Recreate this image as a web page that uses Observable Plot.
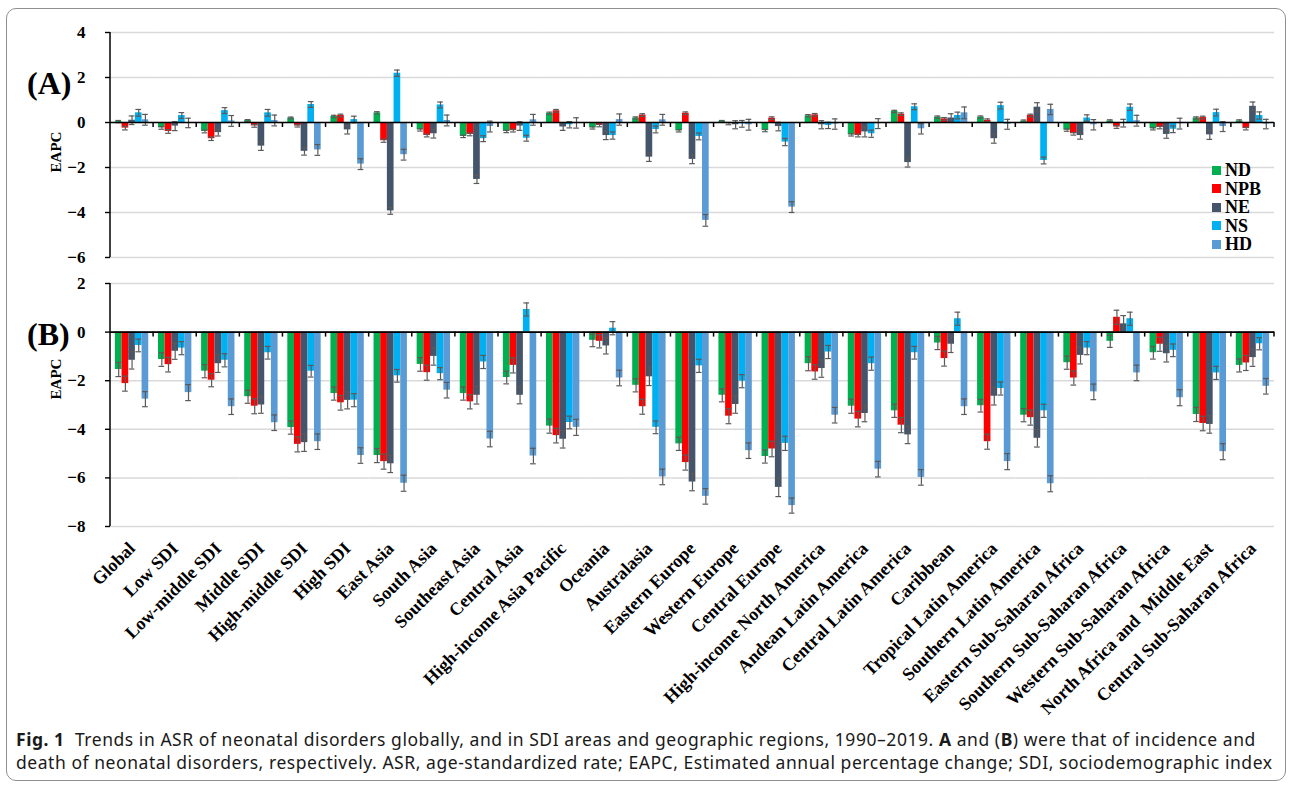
<!DOCTYPE html>
<html>
<head>
<meta charset="utf-8">
<script src="https://cdn.jsdelivr.net/npm/d3@7"></script>
<script src="https://cdn.jsdelivr.net/npm/@observablehq/plot@0.6"></script>
<style>
  html, body { margin: 0; padding: 0; background: #fff; }
  body { width: 1293px; height: 787px; position: relative; overflow: hidden; }
  #frame { position: absolute; left: 6px; top: 8px; width: 1278px; height: 771px; border: 1px solid #8f8f8f; border-radius: 10px; }
  #a { position: absolute; left: 0; top: 20px; }
  #b { position: absolute; left: 0; top: 270px; }
  svg { overflow: visible; }
  .plab { position: absolute; left: 27px; font: bold 32px/32px "Liberation Serif", serif; color: #000; }
  .ylab { position: absolute; width: 80px; height: 16px; text-align: center; font: bold 15px/16px "Liberation Serif", serif; transform: rotate(-90deg); color: #000; }
  #legend { position: absolute; left: 1212px; top: 161px; font: bold 18px/18.5px "Liberation Serif", serif; color: #000; }
  #legend .row { display: flex; align-items: center; height: 18.5px; }
  #legend .sw { width: 9px; height: 9px; margin-right: 4px; }
  #caption { position: absolute; left: 16px; top: 728px; font: 17.5px/23px "Noto Sans", sans-serif; letter-spacing: 0.55px; color: #1a1a1a; white-space: nowrap; }
</style>
</head>
<body>
<div id="frame"></div>
<div id="a"></div>
<div id="b"></div>
<div class="plab" style="top:67px">(A)</div>
<div class="plab" style="top:318px">(B)</div>
<div class="ylab" style="left:16px; top:144px">EAPC</div>
<div class="ylab" style="left:16px; top:371px">EAPC</div>
<div id="legend"></div>
<div id="caption"><b>Fig. 1</b>&nbsp; Trends in ASR of neonatal disorders globally, and in SDI areas and geographic regions, 1990–2019. <b>A</b> and (<b>B</b>) were that of incidence and<br>death of neonatal disorders, respectively. ASR, age-standardized rate; EAPC, Estimated annual percentage change; SDI, sociodemographic index</div>
<script>
const categories = ["Global","Low SDI","Low-middle SDI","Middle SDI","High-middle SDI","High SDI","East Asia","South Asia","Southeast Asia","Central Asia","High-income Asia Pacific","Oceania","Australasia","Eastern Europe","Western Europe","Central Europe","High-income North America","Andean Latin America","Central Latin America","Caribbean","Tropical Latin America","Southern Latin America","Eastern Sub-Saharan Africa","Southern Sub-Saharan Africa","Western Sub-Saharan Africa","North Africa and  Middle East","Central Sub-Saharan Africa"];
const series = ["ND","NPB","NE","NS","HD"];
const colors = ["#00B050","#FF0000","#44546A","#00B0F0","#5B9BD5"];

// (A) incidence EAPC
const ND_A  = [0.04,-0.24,-0.4,0.09,0.2,0.27,0.43,-0.33,-0.62,-0.4,0.41,-0.24,0.2,-0.37,0.05,-0.36,0.3,-0.55,0.49,0.24,0.24,0.06,-0.34,0.07,-0.28,0.2,0.07];
const NPB_A = [-0.25,-0.4,-0.72,-0.15,-0.15,0.31,-0.81,-0.58,-0.53,-0.36,0.52,-0.13,0.33,0.41,-0.05,0.19,0.34,-0.58,0.37,0.16,0.1,0.31,-0.5,-0.2,-0.22,0.22,-0.27];
const NE_A  = [0.1,-0.16,-0.45,-1.05,-1.28,-0.33,-3.93,-0.5,-2.53,-0.16,-0.2,-0.58,-1.54,-1.64,-0.1,-0.18,-0.1,-0.42,-1.78,0.2,-0.72,0.68,-0.58,-0.03,-0.53,-0.55,0.72];
const NS_A  = [0.43,0.31,0.53,0.43,0.8,0.13,2.19,0.78,-0.72,-0.7,-0.1,-0.58,-0.31,-0.62,-0.06,-0.87,-0.13,-0.5,0.7,0.31,0.75,-1.69,0.2,0.68,-0.3,0.44,0.31];
const HD_A  = [0.12,-0.02,0.07,0.09,-1.22,-1.85,-1.43,0.09,-0.18,0.12,-0.02,0.13,0.12,-4.35,-0.1,-3.76,-0.07,-0.05,-0.28,0.43,-0.08,0.58,-0.1,0.08,-0.05,-0.18,-0.07];
const ND_A_err  = [0.05,0.06,0.06,0.04,0.04,0.05,0.05,0.05,0.05,0.05,0.05,0.05,0.05,0.05,0.04,0.05,0.05,0.05,0.05,0.05,0.05,0.05,0.05,0.05,0.05,0.05,0.05];
const NPB_A_err = [0.08,0.08,0.08,0.06,0.05,0.06,0.07,0.06,0.06,0.06,0.06,0.06,0.06,0.06,0.05,0.06,0.06,0.06,0.06,0.06,0.06,0.06,0.06,0.06,0.06,0.06,0.06];
const NE_A_err  = [0.19,0.2,0.15,0.19,0.17,0.18,0.15,0.19,0.18,0.19,0.15,0.18,0.19,0.19,0.18,0.19,0.18,0.22,0.2,0.19,0.2,0.2,0.16,0.17,0.17,0.2,0.19];
const NS_A_err  = [0.15,0.13,0.13,0.15,0.13,0.15,0.14,0.13,0.13,0.13,0.14,0.16,0.15,0.15,0.15,0.16,0.14,0.16,0.13,0.15,0.15,0.15,0.14,0.14,0.15,0.15,0.16];
const HD_A_err  = [0.24,0.21,0.24,0.24,0.24,0.24,0.24,0.24,0.24,0.24,0.23,0.25,0.24,0.26,0.24,0.24,0.23,0.22,0.23,0.26,0.22,0.23,0.23,0.24,0.24,0.22,0.21];

// (B) death EAPC
const ND_B  = [-1.54,-1.13,-1.61,-2.66,-3.93,-2.53,-5.08,-1.33,-2.53,-1.87,-3.87,-0.34,-2.19,-4.6,-2.6,-5.12,-1.3,-3.05,-3.24,-0.45,-3.03,-3.42,-1.26,-0.38,-0.85,-3.39,-1.37];
const NPB_B = [-2.12,-1.34,-1.98,-3.05,-4.62,-2.91,-5.33,-1.67,-2.87,-1.37,-4.26,-0.38,-3.07,-5.37,-3.46,-4.81,-1.64,-3.58,-3.83,-1.09,-4.51,-3.52,-1.89,0.61,-0.5,-3.76,-1.27];
const NE_B  = [-1.16,-0.79,-1.3,-3.0,-4.55,-2.81,-5.42,-1.0,-2.6,-2.6,-4.41,-0.57,-1.84,-6.17,-2.98,-6.39,-1.5,-3.35,-4.23,-0.5,-2.64,-4.37,-0.96,0.34,-0.89,-3.8,-1.05];
const NS_B  = [-0.55,-0.66,-1.16,-0.85,-1.61,-2.8,-1.8,-1.71,-1.23,0.93,-3.72,0.16,-3.92,-1.39,-2.02,-4.58,-0.82,-1.3,-0.85,0.55,-2.32,-3.24,-0.66,0.55,-0.75,-1.68,-0.48];
const HD_B  = [-2.76,-2.49,-3.07,-3.73,-4.51,-5.08,-6.22,-2.39,-4.4,-5.1,-3.92,-1.89,-5.96,-6.76,-4.88,-7.14,-3.42,-5.64,-5.98,-3.07,-5.33,-6.24,-2.46,-1.68,-2.7,-4.92,-2.23];
const ND_B_err  = [0.29,0.28,0.27,0.27,0.27,0.27,0.29,0.28,0.27,0.26,0.29,0.26,0.27,0.27,0.27,0.27,0.29,0.29,0.27,0.27,0.26,0.27,0.27,0.25,0.26,0.29,0.27];
const NPB_B_err = [0.31,0.3,0.27,0.31,0.31,0.3,0.31,0.31,0.29,0.31,0.3,0.27,0.31,0.31,0.31,0.32,0.3,0.32,0.31,0.31,0.31,0.31,0.29,0.29,0.29,0.3,0.31];
const NE_B_err  = [0.36,0.33,0.36,0.34,0.36,0.35,0.36,0.36,0.36,0.35,0.36,0.33,0.36,0.36,0.36,0.38,0.36,0.34,0.36,0.34,0.36,0.36,0.35,0.34,0.34,0.36,0.36];
const NS_B_err  = [0.26,0.27,0.27,0.26,0.24,0.27,0.26,0.25,0.27,0.27,0.26,0.27,0.26,0.27,0.27,0.29,0.27,0.27,0.26,0.27,0.27,0.27,0.27,0.27,0.26,0.27,0.25];
const HD_B_err  = [0.31,0.33,0.32,0.32,0.32,0.32,0.33,0.32,0.32,0.32,0.33,0.32,0.32,0.32,0.32,0.31,0.32,0.32,0.32,0.32,0.33,0.33,0.32,0.32,0.33,0.33,0.32];

const ticksA = [-6,-4,-2,0,2,4];
const ticksB = [-8,-6,-4,-2,0,2];

function rows(vals, errs) {
  const out = [];
  categories.forEach((c, i) => series.forEach((s, j) => out.push({cat: c, series: s, value: vals[j][i], err: errs[j][i]})));
  return out;
}
const dataA = rows([ND_A, NPB_A, NE_A, NS_A, HD_A], [ND_A_err, NPB_A_err, NE_A_err, NS_A_err, HD_A_err]);
const dataB = rows([ND_B, NPB_B, NE_B, NS_B, HD_B], [ND_B_err, NPB_B_err, NE_B_err, NS_B_err, HD_B_err]);

function panel(data, ticks, opts) {
  const lo = d => d.value - d.err, hi = d => d.value + d.err;
  const marks = [
    Plot.gridY({ticks, stroke: "#d9d9d9", strokeOpacity: 1, strokeWidth: 1.5}),
    Plot.barY(data, {fx: "cat", x: "series", y: "value", fill: "series"}),
    Plot.ruleX(data, {fx: "cat", x: "series", y1: lo, y2: hi, stroke: "#5a5a5a", strokeWidth: 1.2}),
    Plot.tickY(data, {fx: "cat", x: "series", y: lo, stroke: "#5a5a5a", strokeWidth: 1.2, insetLeft: 0.5, insetRight: 0.5}),
    Plot.tickY(data, {fx: "cat", x: "series", y: hi, stroke: "#5a5a5a", strokeWidth: 1.2, insetLeft: 0.5, insetRight: 0.5}),
    Plot.ruleY([0], {stroke: "#000", strokeWidth: 1.6}),
    Plot.axisY({ticks, tickSize: 5, tickPadding: 20, label: null, fontSize: 17, stroke: "#000", strokeWidth: 1.4})
  ];
  if (opts.fxAxis) marks.push(Plot.axisFx({anchor: "bottom", tickSize: 0, tickPadding: opts.pad, tickRotate: -45, label: null, fontSize: 18}));
  const plot = Plot.plot({
    width: 1293, height: opts.height,
    marginLeft: 110, marginRight: 19, marginTop: opts.mt, marginBottom: opts.mb,
    fx: {domain: categories, padding: 0, round: false, axis: opts.fxAxis ? undefined : null, label: null},
    x: {domain: series, paddingInner: 0, paddingOuter: 0.73, round: false, axis: null},
    y: {domain: opts.domain, ticks, axis: null},
    color: {domain: series, range: colors},
    style: {fontFamily: "Liberation Serif, serif", fontWeight: "bold", fontSize: "17px", color: "#000", background: "transparent", overflow: "visible"},
    marks
  });
  // axis line and category boundary ticks, placed with the plot's own scales
  const fx = plot.scale("fx"), y = plot.scale("y");
  const step = fx.step != null ? fx.step : fx.bandwidth;
  const x0 = fx.apply(categories[0]);
  const svg = d3.select(plot);
  const g = svg.append("g").attr("stroke", "#000");
  g.append("line").attr("x1", x0).attr("x2", x0)
    .attr("y1", y.apply(opts.domain[1])).attr("y2", y.apply(opts.domain[0])).attr("stroke-width", 1.5);
  const bounds = categories.map(c => fx.apply(c)).concat([fx.apply(categories[categories.length - 1]) + step]);
  bounds.slice(1).forEach(bx => {
    g.append("line").attr("x1", bx).attr("x2", bx).attr("y1", y.apply(0)).attr("y2", y.apply(0) + 5).attr("stroke-width", 1.5);
  });
  return plot;
}

document.getElementById("a").append(panel(dataA, ticksA, {height: 250, mt: 12, mb: 13, domain: [-6, 4], fxAxis: false}));
document.getElementById("b").append(panel(dataB, ticksB, {height: 440, mt: 13, mb: 184, domain: [-8, 2], fxAxis: true, pad: 19}));

const leg = document.getElementById("legend");
series.forEach((s, i) => {
  const r = document.createElement("div"); r.className = "row";
  const sw = document.createElement("span"); sw.className = "sw"; sw.style.background = colors[i];
  const t = document.createElement("span"); t.textContent = s;
  r.append(sw, t); leg.append(r);
});
</script>
</body>
</html>
